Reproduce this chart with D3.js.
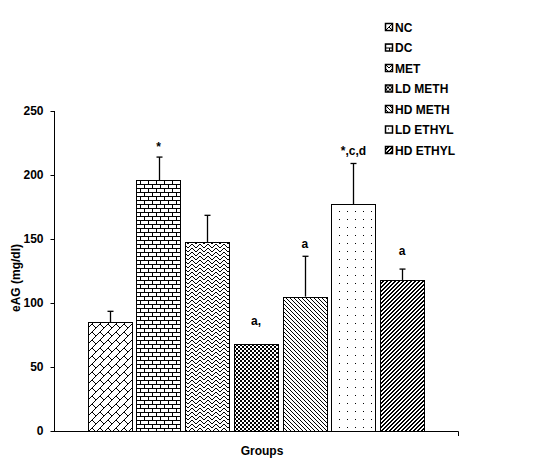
<!DOCTYPE html>
<html>
<head>
<meta charset="utf-8">
<script src="https://cdnjs.cloudflare.com/ajax/libs/d3/7.8.5/d3.min.js"></script>
<style>
  body { margin: 0; background: #fff; }
  text { font-family: Arial, "Liberation Sans", sans-serif; font-weight: bold; fill: #000; }
</style>
</head>
<body>
<div id="chart"></div>
<script>
// data
var groups = ["NC", "DC", "MET", "LD METH", "HD METH", "LD ETHYL", "HD ETHYL"];
var means = [85, 196, 147.5, 68, 105, 177, 118];
var errors = [8.5, 18, 21, 0, 31.5, 32, 8.5];
var marks = ["", "*", "", "a,", "a", "*,c,d", "a"];
var markAt = [0, 219, 0, 83, 143, 215.5, 137.5];
var yTicks = [0, 50, 100, 150, 200, 250];

var width = 551, height = 461;

// 1-bit fill patterns, one per group
var bitmaps = [
  ["00000001", "00000010", "00000100", "00001000", "00011000", "00100100", "01000010", "10000001"],
  ["11111111", "10000000", "10000000", "10000000", "11111111", "00001000", "00001000", "00001000"],
  ["10000001", "01000010", "00100100", "00011000"],
  ["1100", "1100", "0011", "0011"],
  ["1000", "0100", "0010", "0001"],
  ["00000000", "00000000", "00000000", "00010000", "00000000", "00000000", "00000000", "00000000"],
  ["1001", "0011", "0110", "1100"]
];

var svg = d3.select("#chart").append("svg")
  .attr("width", width)
  .attr("height", height);

var defs = svg.append("defs");
bitmaps.forEach(function (rows, i) {
  var p = defs.append("pattern")
    .attr("id", "pat" + i)
    .attr("patternUnits", "userSpaceOnUse")
    .attr("width", rows[0].length)
    .attr("height", rows.length);
  p.append("rect").attr("width", rows[0].length).attr("height", rows.length).attr("fill", "#fff");
  rows.forEach(function (r, y) {
    for (var x = 0; x < r.length; x++) {
      if (r[x] == "1")
        p.append("rect").attr("x", x).attr("y", y).attr("width", 1).attr("height", 1).attr("fill", "#000");
    }
  });
});

var x = d3.scaleBand()
  .domain(groups)
  .range([54, 458])
  .paddingInner(0.09)
  .paddingOuter(0.69);

var y = d3.scaleLinear()
  .domain([0, 250])
  .range([431, 111]);

// bars
svg.append("g")
  .selectAll("rect")
  .data(groups)
  .enter()
  .append("rect")
  .attr("x", function (d) { return Math.round(x(d)) + 0.5; })
  .attr("y", function (d, i) { return Math.round(y(means[i])) + 0.5; })
  .attr("width", Math.round(x.bandwidth()))
  .attr("height", function (d, i) { return Math.round(y(0)) - Math.round(y(means[i])); })
  .attr("fill", function (d, i) { return "url(#pat" + i + ")"; })
  .attr("stroke", "#000")
  .attr("stroke-width", 1);

// error bars (upper only)
var eb = svg.append("g").attr("stroke", "#000").attr("stroke-width", 1.3);
groups.forEach(function (g, i) {
  if (!errors[i]) return;
  var cx = Math.round(x(g) + x.bandwidth() / 2) + 0.5;
  eb.append("line")
    .attr("x1", cx).attr("x2", cx)
    .attr("y1", y(means[i])).attr("y2", y(means[i] + errors[i]));
  eb.append("line")
    .attr("x1", cx - 3).attr("x2", cx + 3)
    .attr("y1", y(means[i] + errors[i])).attr("y2", y(means[i] + errors[i]));
});

// significance letters
svg.append("g")
  .selectAll("text")
  .data(groups)
  .enter()
  .append("text")
  .attr("x", function (d) { return x(d) + x.bandwidth() / 2; })
  .attr("y", function (d, i) { return y(markAt[i]); })
  .attr("text-anchor", "middle")
  .style("font-size", "12px")
  .text(function (d, i) { return marks[i]; });

// y axis
var yAxis = svg.append("g")
  .attr("transform", "translate(54.5,0)")
  .call(d3.axisLeft(y).tickValues(yTicks).tickSize(4).tickPadding(7));
yAxis.selectAll("path, line").attr("stroke", "#000").attr("stroke-width", 1);
yAxis.select(".domain").attr("d", "M0," + y(250) + "V" + y(0));
yAxis.selectAll("text")
  .style("font-size", "12px")
  .style("font-family", "Arial, 'Liberation Sans', sans-serif")
  .style("font-weight", "bold");

// x axis line with end tick
svg.append("path")
  .attr("d", "M54," + (y(0) + 0.5) + "H458.5V" + (y(0) + 5))
  .attr("fill", "none")
  .attr("stroke", "#000");

svg.append("text")
  .attr("transform", "translate(20," + 278 + ") rotate(-90)")
  .attr("text-anchor", "middle")
  .style("font-size", "12px")
  .text("eAG (mg/dl)");

svg.append("text")
  .attr("x", 262)
  .attr("y", 455)
  .attr("text-anchor", "middle")
  .style("font-size", "12px")
  .text("Groups");

// legend
var legend = svg.append("g")
  .selectAll("g")
  .data(groups)
  .enter()
  .append("g")
  .attr("transform", function (d, i) { return "translate(385," + (23 + i * 20.5) + ")"; });
legend.append("rect")
  .attr("x", 0.5).attr("y", 0.5)
  .attr("width", 7).attr("height", 7)
  .attr("fill", function (d, i) { return "url(#pat" + i + ")"; })
  .attr("stroke", "#000")
  .attr("stroke-width", 1.5);
legend.append("text")
  .attr("x", 10)
  .attr("y", 8.5)
  .style("font-size", "12px")
  .text(function (d) { return d; });
</script>
</body>
</html>
